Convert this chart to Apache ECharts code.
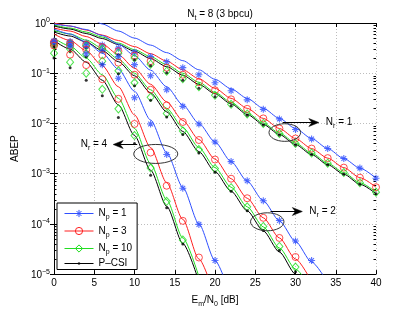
<!DOCTYPE html>
<html><head><meta charset="utf-8">
<script src="https://cdn.jsdelivr.net/npm/echarts@6/dist/echarts.min.js"></script>
<style>html,body{margin:0;padding:0;background:#fff}#c{width:415px;height:313px}</style>
</head><body><div id="c"></div>
<script>
// ---------- data ----------
const snr = [0,2,4,6,8,10,12,14,16,18,20,22,24,26,28,30,32,34,36,38,40];

// simulation points (markers)
const simNr1Np1  = [0.437,0.427,0.398,0.363,0.316,0.263,0.214,0.170,0.129,0.0933,0.0646,0.0447,0.0295,0.0191,0.0123,7.59e-3,4.90e-3,3.16e-3,2.00e-3,1.29e-3,8.13e-4];
const simNr1Np3  = [0.417,0.398,0.372,0.331,0.275,0.224,0.174,0.129,0.0933,0.0661,0.0457,0.0302,0.0195,0.0126,7.94e-3,5.01e-3,3.16e-3,2.04e-3,1.32e-3,8.32e-4,5.37e-4];
const simNr1Np10 = [0.398,0.380,0.347,0.302,0.251,0.200,0.151,0.110,0.0776,0.0537,0.0363,0.0240,0.0155,0.0100,6.31e-3,3.98e-3,2.57e-3,1.62e-3,1.05e-3,6.61e-4,4.27e-4];
const simNr1Pcsi = [0.380,0.355,0.324,0.282,0.234,0.186,0.141,0.102,0.0724,0.0501,0.0339,0.0224,0.0145,9.33e-3,5.89e-3,3.72e-3,2.40e-3,1.51e-3,9.77e-4,6.17e-4,3.98e-4];

const simNr2Np1  = [0.427,0.398,0.347,0.282,0.214,0.148,0.0891,0.0468,0.0219,9.77e-3,4.27e-3,1.74e-3,7.24e-4,2.88e-4,1.17e-4,4.57e-5,1.86e-5];
const simNr2Np3  = [0.398,0.355,0.295,0.229,0.162,0.0933,0.0468,0.0229,0.0107,4.68e-3,1.91e-3,7.94e-4,3.24e-4,1.32e-4,5.25e-5,2.19e-5];
const simNr2Np10 = [0.355,0.302,0.240,0.174,0.112,0.0646,0.0331,0.0158,7.08e-3,3.02e-3,1.26e-3,5.25e-4,2.19e-4,8.91e-5,3.55e-5,1.38e-5];
const simNr2Pcsi = [0.331,0.275,0.214,0.151,0.0977,0.0562,0.0288,0.0135,6.03e-3,2.57e-3,1.07e-3,4.47e-4,1.82e-4,7.41e-5,2.95e-5,1.12e-5];

const simNr4Np1  = [0.417,0.347,0.245,0.148,0.0794,0.0324,9.77e-3,2.40e-3,5.13e-4,9.77e-5,1.86e-5];
const simNr4Np3  = [0.355,0.234,0.145,0.0759,0.0309,9.77e-3,2.63e-3,5.75e-4,1.15e-4,2.14e-5];
const simNr4Np10 = [0.251,0.166,0.100,0.0479,0.0195,5.75e-3,1.29e-3,2.82e-4,4.79e-5];
const simNr4Pcsi = [0.200,0.129,0.0724,0.0355,0.0132,3.98e-3,9.33e-4,2.09e-4,3.98e-5];

// analytical curves (lines)
const anaNr1Np1  = [2.82,2.14,1.48,0.955,0.692,0.501,0.363,0.257,0.178,0.117,0.0759,0.0490,0.0316,0.0200,0.0126,7.94e-3,5.01e-3,3.16e-3,2.00e-3,1.29e-3,8.13e-4];
const anaNr1Np3  = [1.0,0.871,0.724,0.575,0.447,0.339,0.245,0.174,0.117,0.0776,0.0501,0.0316,0.0200,0.0126,7.94e-3,5.01e-3,3.16e-3,2.04e-3,1.32e-3,8.32e-4,5.37e-4];
const anaNr1Np10 = [0.912,0.794,0.661,0.525,0.398,0.295,0.214,0.148,0.100,0.0661,0.0417,0.0263,0.0162,0.0102,6.46e-3,4.07e-3,2.57e-3,1.62e-3,1.05e-3,6.61e-4,4.27e-4];
const anaNr1Pcsi = [0.871,0.759,0.617,0.490,0.372,0.275,0.195,0.135,0.0912,0.0603,0.0389,0.0245,0.0151,9.55e-3,6.03e-3,3.80e-3,2.40e-3,1.51e-3,9.77e-4,6.17e-4,3.98e-4];

const anaNr2Np1  = [0.955,0.871,0.741,0.562,0.380,0.224,0.115,0.0537,0.0234,0.0100,4.27e-3,1.74e-3,7.08e-4,2.88e-4,1.15e-4,4.47e-5,1.74e-5,6.76e-6];
const anaNr2Np3  = [0.794,0.692,0.537,0.380,0.234,0.126,0.0603,0.0269,0.0115,4.79e-3,1.95e-3,7.94e-4,3.24e-4,1.32e-4,5.25e-5,2.00e-5,7.08e-6];
const anaNr2Np10 = [0.708,0.603,0.457,0.316,0.191,0.100,0.0468,0.0200,8.32e-3,3.31e-3,1.32e-3,5.37e-4,2.19e-4,8.71e-5,3.31e-5,1.26e-5,4.79e-6];
const anaNr2Pcsi = [0.661,0.550,0.417,0.282,0.170,0.0891,0.0407,0.0170,6.92e-3,2.75e-3,1.10e-3,4.47e-4,1.82e-4,7.24e-5,2.75e-5,1.00e-5,3.80e-6];

const anaNr4Np1  = [0.759,0.603,0.417,0.251,0.120,0.0437,0.0117,2.63e-3,5.37e-4,1.00e-4,1.86e-5,3.39e-6];
const anaNr4Np3  = [0.603,0.447,0.282,0.141,0.0537,0.0148,3.31e-3,6.61e-4,1.23e-4,2.00e-5,3.55e-6];
const anaNr4Np10 = [0.501,0.347,0.200,0.0933,0.0316,7.94e-3,1.58e-3,3.02e-4,5.25e-5,8.91e-6];
const anaNr4Pcsi = [0.447,0.302,0.166,0.0724,0.0234,5.75e-3,1.17e-3,2.24e-4,4.07e-5,7.08e-6];

const legendNames = ['Np1','Np3','Np10','PCSI'];
const legendLabels = {Np1:['N','p',' = 1'], Np3:['N','p',' = 3'], Np10:['N','p',' = 10'], PCSI:['P\u2013CSI','','']};

// annotations: ellipse centre (data), arrow (data), label
const annotations = [
  {nr:'1', cx:28.67, cy:6.59e-3, rx:15.8, ry:8.8, ax0:28.4, ax1:32.9, ay:1.06e-2, dir:'right'},
  {nr:'2', cx:26.49, cy:1.10e-4, rx:16.7, ry:9.0, ax0:26.9, ax1:30.85, ay:1.79e-4, dir:'right'},
  {nr:'4', cx:12.64, cy:2.47e-3, rx:22.0, ry:9.5, ax0:10.34, ax1:7.35, ay:3.97e-3, dir:'left'}
];

// ---------- styling ----------
const FONT = 'Liberation Sans, Arial, Helvetica, sans-serif';
const C = {Np1:'#2f4fff', Np3:'#ff2020', Np10:'#22dd22', PCSI:'#000000'};
const STAR = 'path://M5,0L5,10M0,5L10,5M1.6,1.6L8.4,8.4M1.6,8.4L8.4,1.6';
const DOT_LEG = 'path://M0,0L0.01,0M10,10L10.01,10M3.5,3.5L6.5,3.5L6.5,6.5L3.5,6.5Z';
const markerStyle = {
  Np1:  {symbol: STAR, symbolSize: 7, itemStyle:{color:'none', borderColor:C.Np1, borderWidth:1.1}},
  Np3:  {symbol: 'circle', symbolSize: 7, itemStyle:{color:'none', borderColor:C.Np3, borderWidth:1}},
  Np10: {symbol: 'diamond', symbolSize: [7,8], itemStyle:{color:'none', borderColor:C.Np10, borderWidth:1}},
  PCSI: {symbol: 'circle', symbolSize: 3, itemStyle:{color:C.PCSI, borderWidth:0}}
};
const richSub = {
  n: {fontFamily: FONT, fontSize: 10, lineHeight: 15, color:'#000'},
  s: {fontFamily: FONT, fontSize: 7, lineHeight: 7, padding:[8,0,0,0], verticalAlign:'top', color:'#000'}
};
const subText = (a,b,c) => '{n|'+a+'}' + (b ? '{s|'+b+'}' : '') + (c ? '{n|'+c+'}' : '');

const pairs = arr => arr.map((v,i) => [snr[i], v]);

const groups = [
  {sim:{Np1:simNr1Np1,Np3:simNr1Np3,Np10:simNr1Np10,PCSI:simNr1Pcsi}, ana:{Np1:anaNr1Np1,Np3:anaNr1Np3,Np10:anaNr1Np10,PCSI:anaNr1Pcsi}},
  {sim:{Np1:simNr2Np1,Np3:simNr2Np3,Np10:simNr2Np10,PCSI:simNr2Pcsi}, ana:{Np1:anaNr2Np1,Np3:anaNr2Np3,Np10:anaNr2Np10,PCSI:anaNr2Pcsi}},
  {sim:{Np1:simNr4Np1,Np3:simNr4Np3,Np10:simNr4Np10,PCSI:simNr4Pcsi}, ana:{Np1:anaNr4Np1,Np3:anaNr4Np3,Np10:anaNr4Np10,PCSI:anaNr4Pcsi}}
];

const series = [];
// legend-only series (first of each name => legend icon)
legendNames.forEach(k => {
  series.push({
    type:'line', name:k, data:[], silent:true,
    symbol: k==='PCSI' ? DOT_LEG : markerStyle[k].symbol,
    itemStyle: k==='PCSI' ? {color:'#000', borderColor:'rgba(0,0,0,0)', borderWidth:0} : markerStyle[k].itemStyle,
    lineStyle:{color:C[k], width:1}
  });
});
groups.forEach(g => {
  legendNames.forEach(k => {
    series.push({
      type:'line', name:k, data: pairs(g.ana[k]), symbol:'none', silent:true,
      lineStyle:{color:C[k], width:1}, itemStyle:{color:C[k]}, smooth:0.25, smoothMonotone:'x', z:2
    });
  });
});
groups.forEach(g => {
  legendNames.forEach(k => {
    series.push(Object.assign({
      type:'scatter', name:k, data: pairs(g.sim[k]), silent:true, z:3
    }, JSON.parse(JSON.stringify(markerStyle[k]))));
  });
});

const chart = echarts.init(document.getElementById('c'), null, {renderer:'canvas'});
const GL = 54, GR = 39, GT = 23, GB = 36;

const yLabel = v => {
  const e = Math.round(Math.log10(v));
  return '{b|10}{e|' + (e < 0 ? '\u2212' + (-e) : e) + '}';
};

chart.setOption({
  animation:false,
  backgroundColor:'#fff',
  title:{
    text: subText('N','t',' = 8 (3 bpcu)'),
    left: 215, top: 2, textAlign:'center',
    textStyle:{fontFamily:FONT, fontSize:10, fontWeight:'normal', color:'#000', rich: richSub}
  },
  grid:{left:GL, right:GR, top:GT, bottom:GB},
  legend:{
    data: legendNames, orient:'vertical', left:57, top:203,
    padding:[3,5,1,7], itemGap:2.5, itemWidth:29, itemHeight:9,
    backgroundColor:'#fff', borderColor:'#000', borderWidth:1, borderRadius:0,
    selectedMode:false,
    itemStyle:{borderWidth:1},
    lineStyle:{width:1},
    formatter: n => subText.apply(null, legendLabels[n]),
    textStyle:{fontFamily:FONT, fontSize:10, color:'#000', rich: richSub}
  },
  xAxis:[{
    type:'value', min:0, max:40, interval:5, position:'bottom',
    axisLine:{show:true, lineStyle:{color:'#000', width:1}},
    axisTick:{show:true, inside:true, length:4, lineStyle:{color:'#000'}},
    axisLabel:{fontFamily:FONT, fontSize:10, color:'#000', margin:4},
    splitLine:{show:true, lineStyle:{color:'#bdbdbd', type:[1,2], width:1}},
    name: subText('E','m','/N') + '{s|0}{n| [dB]}',
    nameLocation:'middle', nameGap:14,
    nameTextStyle:{fontFamily:FONT, fontSize:10, color:'#000', rich:richSub}
  },{
    type:'value', min:0, max:40, interval:5, position:'top',
    axisLine:{show:true, lineStyle:{color:'#000', width:1}},
    axisTick:{show:true, inside:true, length:4, lineStyle:{color:'#000'}},
    axisLabel:{show:false}, splitLine:{show:false}
  }],
  yAxis:[{
    type:'log', logBase:10, min:1e-5, max:1, position:'left',
    axisLine:{show:true, lineStyle:{color:'#000', width:1}},
    axisTick:{show:true, inside:true, length:4, lineStyle:{color:'#000'}},
    axisLabel:{formatter:yLabel, margin:4, color:'#000',
      rich:{
        b:{fontFamily:FONT, fontSize:10, lineHeight:12, verticalAlign:'bottom', color:'#000'},
        e:{fontFamily:FONT, fontSize:7, lineHeight:7, padding:[0,0,7,0], verticalAlign:'top', color:'#000'}
      }},
    splitLine:{show:true, lineStyle:{color:'#bdbdbd', type:[1,2], width:1}},
    name:'ABEP', nameLocation:'middle', nameGap:21,
    nameTextStyle:{fontFamily:FONT, fontSize:10, color:'#000'}
  },{
    type:'log', logBase:10, min:1e-5, max:1, position:'right',
    axisLine:{show:true, lineStyle:{color:'#000', width:1}},
    axisTick:{show:true, inside:true, length:4, lineStyle:{color:'#000'}},
    axisLabel:{show:false}, splitLine:{show:false}
  }],
  series: series
});

// ---------- graphics: minor log ticks + annotations ----------
const toPx = (x, y) => chart.convertToPixel({xAxisIndex:0, yAxisIndex:0}, [x, y]);
const W = chart.getWidth(), H = chart.getHeight();
const xL = GL, xR = W - GR;
const gr = [];
for (let k = -5; k < 0; k++) {
  for (let m = 2; m <= 9; m++) {
    const y = Math.round(toPx(0, m * Math.pow(10, k))[1]) + 0.5;
    gr.push({type:'line', silent:true, shape:{x1:xL, y1:y, x2:xL+2.5, y2:y}, style:{stroke:'#000', lineWidth:1}});
    gr.push({type:'line', silent:true, shape:{x1:xR-2.5, y1:y, x2:xR, y2:y}, style:{stroke:'#000', lineWidth:1}});
  }
}
annotations.forEach(a => {
  const c = toPx(a.cx, a.cy);
  gr.push({type:'ellipse', silent:true, shape:{cx:c[0], cy:c[1], rx:a.rx, ry:a.ry},
    style:{fill:'none', stroke:'#333', lineWidth:1}, z:10});
  const p0 = toPx(a.ax0, a.ay), p1 = toPx(a.ax1, a.ay);
  const y = Math.round(p0[1]) + 0.5;
  const d = a.dir === 'right' ? 1 : -1;
  gr.push({type:'line', silent:true, shape:{x1:p0[0], y1:y, x2:p1[0] - d*6, y2:y},
    style:{stroke:'#000', lineWidth:1}, z:10});
  const t = p1[0];
  gr.push({type:'polygon', silent:true, shape:{points:[[t, y],[t - d*10, y - 4],[t - d*7, y],[t - d*10, y + 4]]},
    style:{fill:'#000', stroke:'#000', lineWidth:0.5}, z:10});
  gr.push({type:'text', silent:true, z:10,
    x: a.dir === 'right' ? t + 7 : t - 6, y: y,
    style:{text: subText('N','r',' = ' + a.nr), rich: richSub,
      align: a.dir === 'right' ? 'left' : 'right', verticalAlign:'middle',
      fontFamily:FONT, fontSize:10, fill:'#000'}});
});
chart.setOption({graphic: gr});
</script>
</body></html>
